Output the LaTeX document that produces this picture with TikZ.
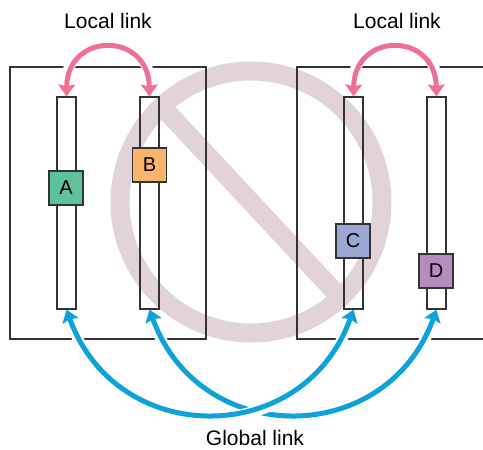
\documentclass[tikz,border=0pt]{standalone}
\usepackage{fontspec}
\setmainfont{Liberation Sans}
\usetikzlibrary{arrows.meta}
\definecolor{ringpink}{RGB}{226,210,218}
\definecolor{localpink}{RGB}{238,112,146}
\definecolor{globalblue}{RGB}{14,162,218}
\definecolor{unitA}{RGB}{94,194,155}
\definecolor{unitB}{RGB}{250,180,110}
\definecolor{unitC}{RGB}{155,168,214}
\definecolor{unitD}{RGB}{180,140,192}
\begin{document}
\begin{tikzpicture}[
    x=1pt, y=-1pt,
    every node/.style={font=\fontsize{21}{25}\selectfont},
    region/.style={draw=black!80, line width=1.2pt},
    bar/.style={draw=black!80, line width=1.2pt, minimum width=19pt,
                minimum height=212pt, inner sep=0pt},
    unit/.style={draw=black!80, line width=1.2pt, minimum size=34pt,
                 inner sep=0pt, font=\fontsize{20}{24}\selectfont},
    link/.style={line width=5pt,
                 {Stealth[length=12pt,width=17pt,inset=2pt]}-{Stealth[length=12pt,width=17pt,inset=2pt]},
                 preaction={draw=white, line width=11pt, shorten <=16pt, shorten >=16pt, -}},
    local/.style={link, draw=localpink},
    global/.style={link, draw=globalblue},
]
\useasboundingbox (0,0) rectangle (483,450);
\draw[ringpink, line width=19pt] (251,202) circle[radius=131pt];
\draw[ringpink, line width=19pt] (251,202) ++(227:126) -- ++(47:252);
\draw[region] (10,67) rectangle (206,339);
\draw[region] (297,67) rectangle (492,339);
\node[bar] (bar1) at (66.5,203) {};
\node[bar] (bar2) at (149.5,203) {};
\node[bar] (bar3) at (353.5,203) {};
\node[bar] (bar4) at (436.5,203) {};
\node[unit, fill=unitA] (A) at (66,188) {A};
\node[unit, fill=unitB] (B) at (149.5,165) {B};
\node[unit, fill=unitC] (C) at (353,241) {C};
\node[unit, fill=unitD] (D) at (436,271) {D};
\draw[local] (bar1.north) .. controls +(1,-65) and +(-1,-65) .. (bar2.north);
\draw[local] (bar3.north) .. controls +(1,-65) and +(-1,-65) .. (bar4.north);
\draw[global] (bar2.south) .. controls +(50,139) and +(-50,139) .. (bar4.south);
\draw[global] (bar1.south) .. controls +(50,139) and +(-50,139) .. (bar3.south);
\node (locallabel1) at (108,21) {Local link};
\node (locallabel2) at (397,21) {Local link};
\node (globallabel) at (255,438) {Global link};
\end{tikzpicture}
\end{document}
